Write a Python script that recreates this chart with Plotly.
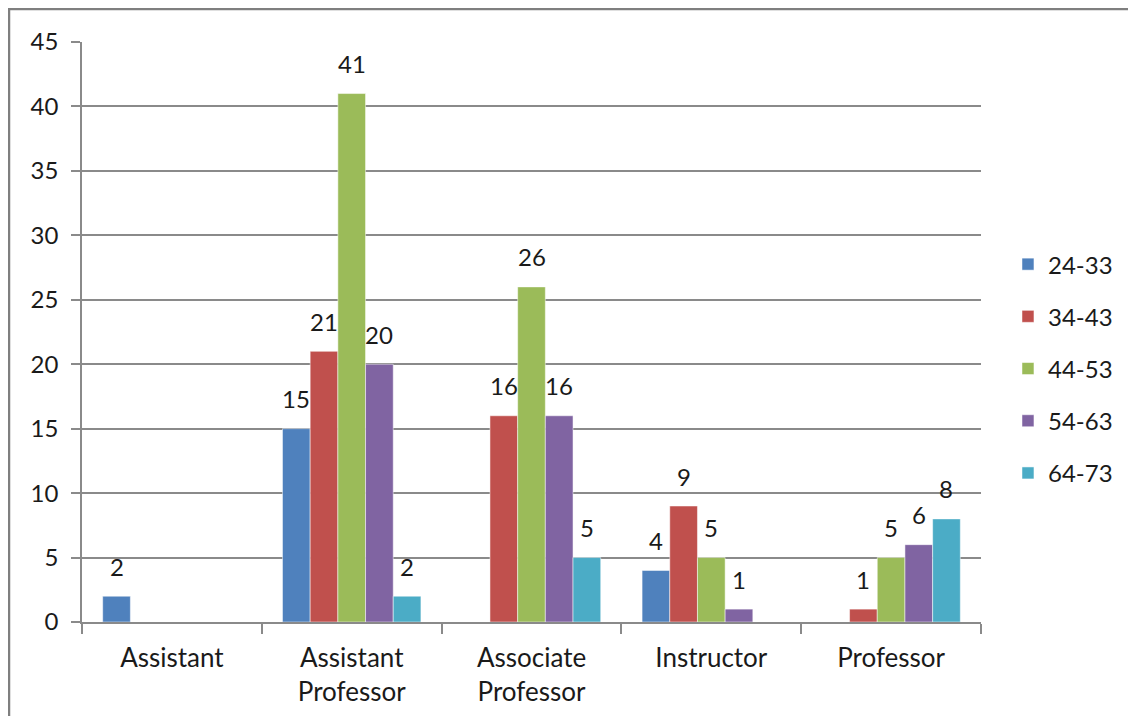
import plotly.graph_objects as go

# Data
categories = ["Assistant", "Assistant<br>Professor", "Associate<br>Professor", "Instructor", "Professor"]
age_groups = ["24-33", "34-43", "44-53", "54-63", "64-73"]
v_24_33 = [2, 15, None, 4, None]
v_34_43 = [None, 21, 16, 9, 1]
v_44_53 = [None, 41, 26, 5, 5]
v_54_63 = [None, 20, 16, 1, 6]
v_64_73 = [None, 2, 5, None, 8]
series = [v_24_33, v_34_43, v_44_53, v_54_63, v_64_73]
colors = ["#4F81BD", "#C0504D", "#9BBB59", "#8064A2", "#4BACC6"]

# page body has an 8px margin, so the figure is a little smaller than the window
W, H = 1120, 708
ML, MR, MT, MB = 74, 147, 34, 94
BARGAP = 0.23
FONT = "Lato"
FS = 24
TXT = "#1a1a1a"
GRID = "#8a8a8a"

plot_w = W - ML - MR
plot_h = H - MT - MB
bar_px = plot_w / len(categories) * (1 - BARGAP) / len(series)

fig = go.Figure()
for i, (name, vals) in enumerate(zip(age_groups, series)):
    fig.add_trace(go.Bar(
        x=categories, y=vals, name=name, legendgroup=name,
        marker=dict(color=colors[i], line=dict(color="white", width=0.5)),
    ))
    # value labels above the bars
    for cat, v in zip(categories, vals):
        if v is None:
            continue
        fig.add_annotation(
            x=cat, y=v, text=str(v), showarrow=False,
            xshift=(i - (len(series) - 1) / 2) * bar_px,
            yshift=30, yanchor="middle",
            font=dict(family=FONT, size=FS, color=TXT),
        )

# outer chart border (only top/left visible in the crop)
fig.add_shape(type="rect", xref="paper", yref="paper",
              x0=-(ML - 1) / plot_w, x1=1.5,
              y0=-0.5, y1=(plot_h + MT - 1) / plot_h,
              line=dict(color="#7f7f7f", width=2.5), layer="below")

fig.update_layout(
    width=W, height=H,
    margin=dict(l=ML, r=MR, t=MT, b=MB, autoexpand=False),
    paper_bgcolor="white", plot_bgcolor="white",
    barmode="group", bargap=BARGAP, bargroupgap=0,
    font=dict(family=FONT, size=FS, color=TXT),
    showlegend=True,
    legend=dict(
        x=1.03, xanchor="left", y=0.437, yanchor="middle",
        font=dict(family=FONT, size=FS, color=TXT),
        tracegroupgap=18, bgcolor="rgba(0,0,0,0)",
    ),
    xaxis=dict(
        showline=True, linecolor=GRID, linewidth=1.5,
        ticks="outside", ticklen=10, tickcolor=GRID, tickwidth=1.5,
        tickson="boundaries", showgrid=False,
        tickfont=dict(size=26), ticklabelstandoff=12,
    ),
    yaxis=dict(
        range=[0, 45], dtick=5,
        showline=True, linecolor=GRID, linewidth=1.5,
        ticks="outside", ticklen=9, tickcolor=GRID, tickwidth=1.5,
        showgrid=True, gridcolor=GRID, gridwidth=1.5,
        zeroline=False, ticklabelstandoff=8,
    ),
)

fig.write_html("out.html")
